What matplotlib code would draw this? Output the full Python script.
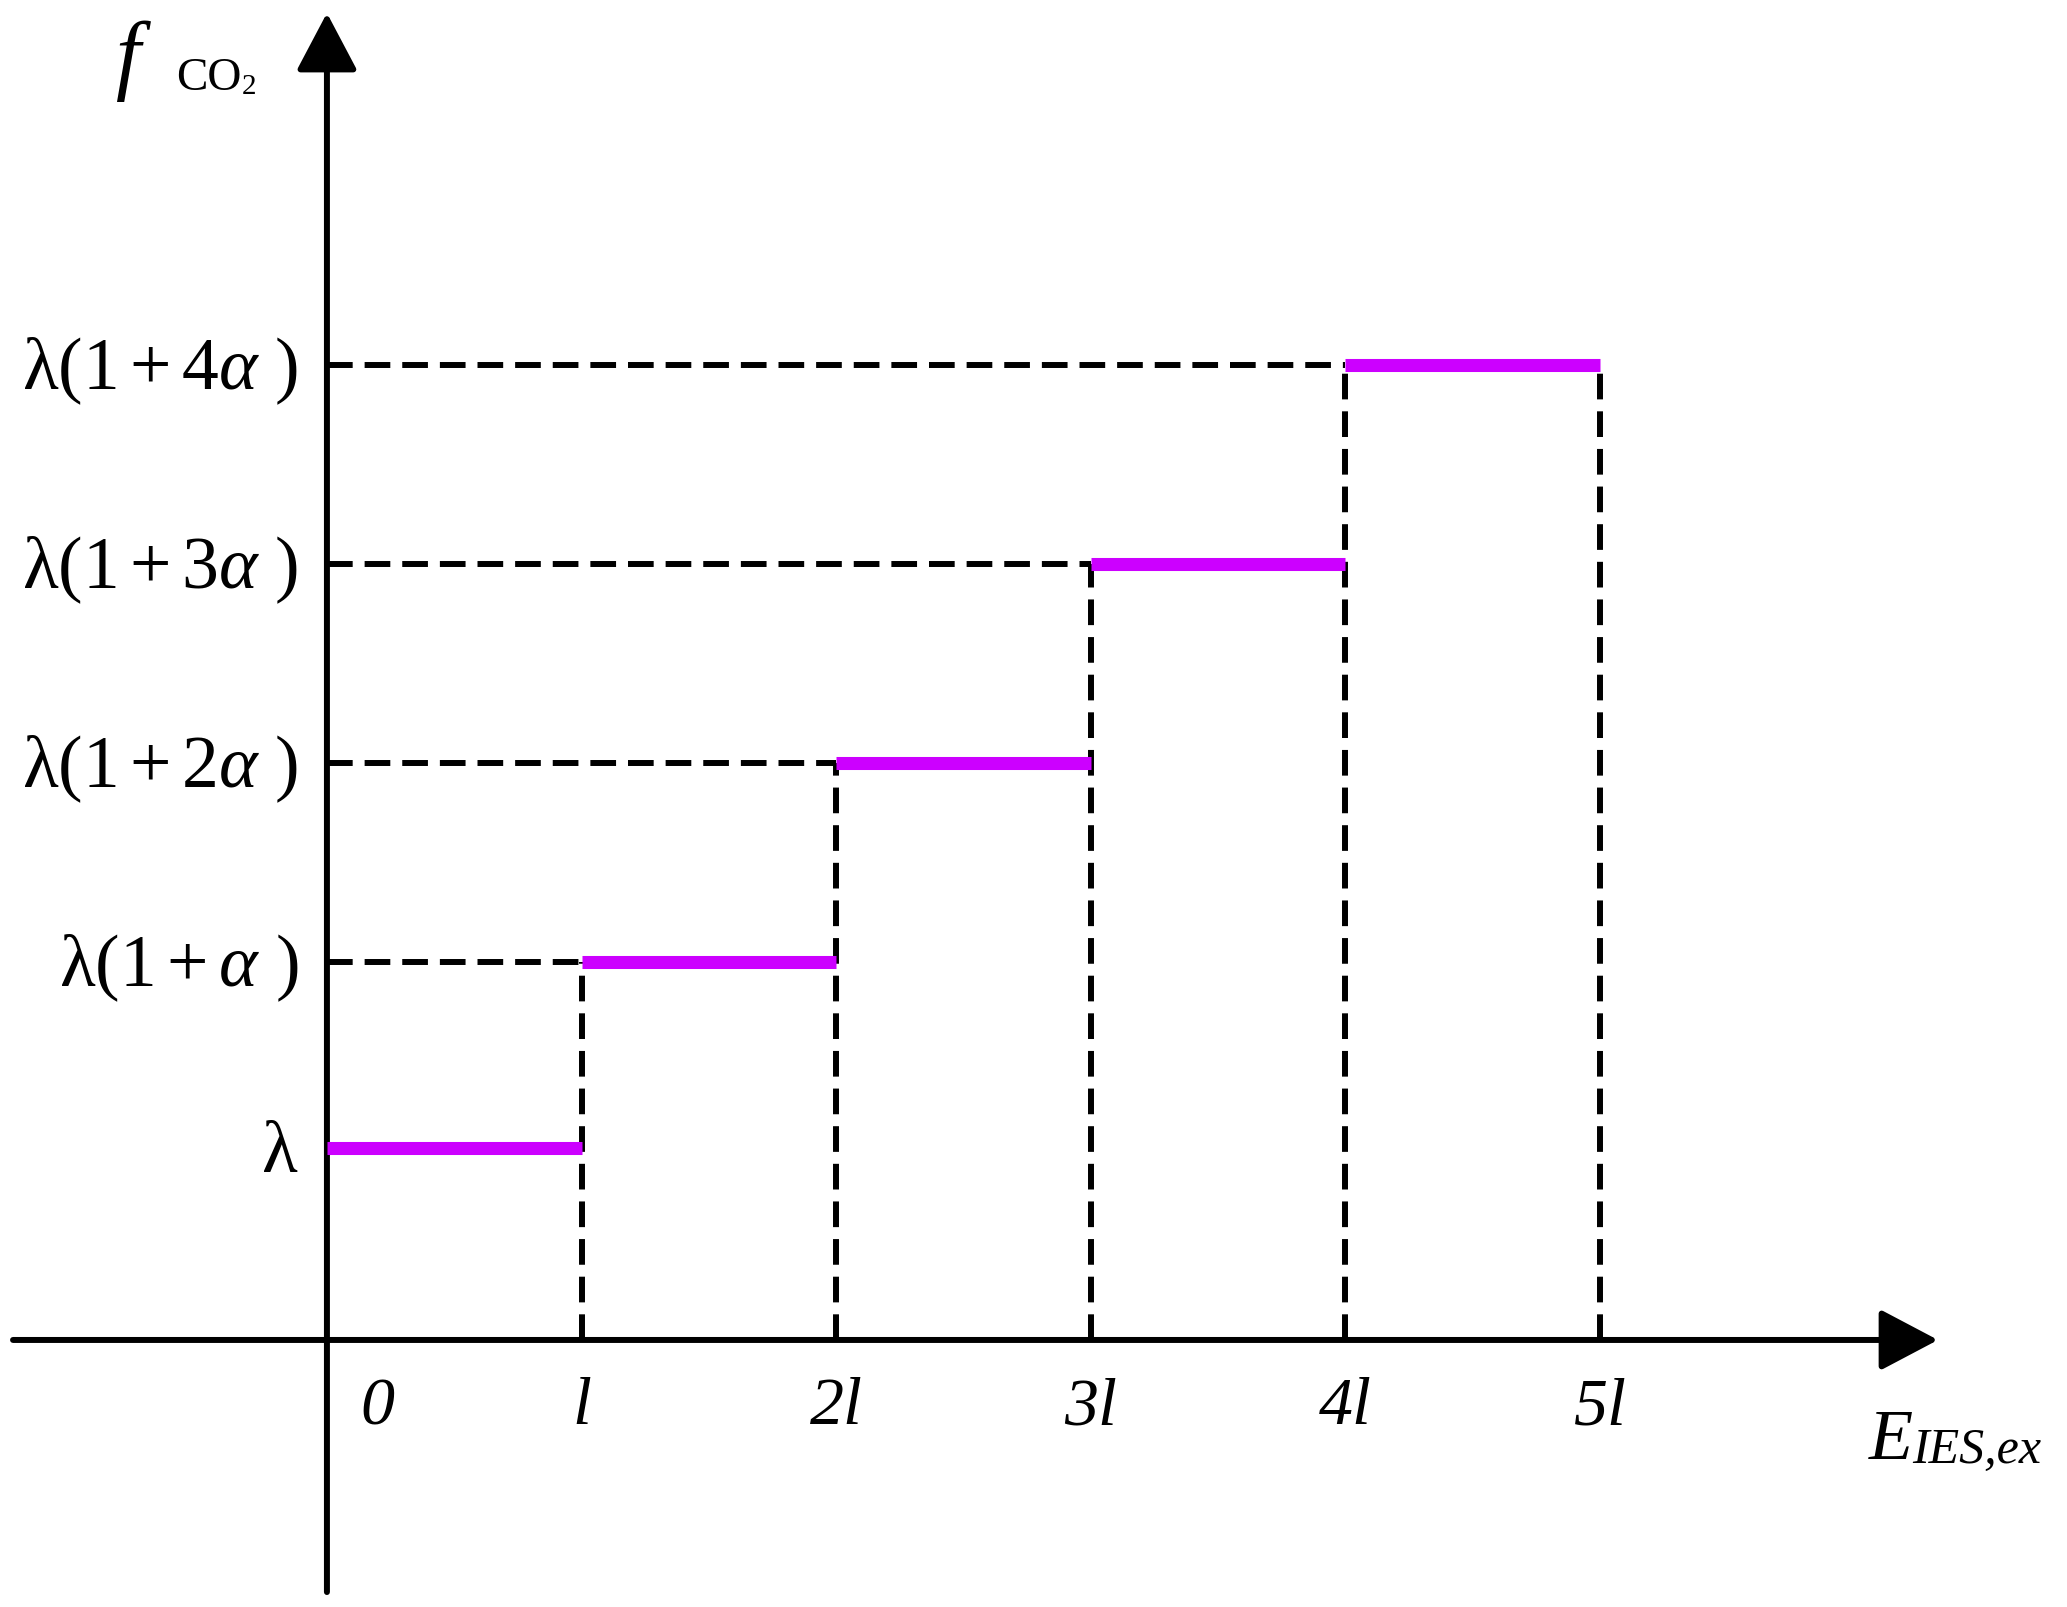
import matplotlib
matplotlib.use('Agg')
import matplotlib.pyplot as plt

plt.rcParams['font.family'] = ['Liberation Serif', 'DejaVu Serif']
plt.rcParams['mathtext.fontset'] = 'custom'
plt.rcParams['mathtext.rm'] = 'Liberation Serif'
plt.rcParams['mathtext.it'] = 'Liberation Serif:italic'

# step boundaries (in units of l) and price level of each step
step_x = [0, 1, 2, 3, 4, 5]
levels = [0.965, 1.90, 2.90, 3.90, 4.90]

x_labels = ['0', 'l', '2l', '3l', '4l', '5l']
y_labels = [r'$\mathrm{\lambda}$',
            r'$\mathrm{\lambda}(1+\alpha\ )$',
            r'$\mathrm{\lambda}(1+2\alpha\ )$',
            r'$\mathrm{\lambda}(1+3\alpha\ )$',
            r'$\mathrm{\lambda}(1+4\alpha\ )$']

magenta = '#cc00ff'
dash = (4.3, 2.0)

fig = plt.figure(figsize=(20.67, 16.07), dpi=100)
ax = fig.add_axes([0, 0, 1, 1])
ax.set_xlim(-1.284, 6.834)
ax.set_ylim(-1.342, 6.734)
ax.axis('off')

# axes with arrows
arrow = dict(arrowstyle='-|>,head_length=36,head_width=19', mutation_scale=1,
             lw=4.3, color='black', shrinkA=0, shrinkB=0)
ax.annotate('', xy=(0.9376, 0), xytext=(0.0063, 0),
            xycoords=('axes fraction', 'data'), textcoords=('axes fraction', 'data'),
            arrowprops=arrow)
ax.annotate('', xy=(0, 0.9919), xytext=(0, 0.0093),
            xycoords=('data', 'axes fraction'), textcoords=('data', 'axes fraction'),
            arrowprops=arrow)

# dashed guides
for k in range(1, 5):
    ax.plot([0, step_x[k]], [levels[k], levels[k]], color='black', lw=4.3,
            dashes=dash, zorder=2)
for k in range(1, 6):
    top = levels[min(k, 4)]
    ax.plot([step_x[k], step_x[k]], [0, top], color='black', lw=4.3,
            dashes=dash, zorder=2)

# the step function
for k in range(5):
    ax.plot([step_x[k], step_x[k + 1]], [levels[k], levels[k]], color=magenta,
            lw=9.4, solid_capstyle='butt', zorder=3)

# tick labels
xt = ax.get_xaxis_transform()
for k, lab in enumerate(x_labels):
    xpos = step_x[k] + (0.2 if k == 0 else 0.0)
    ax.text(xpos, 0.124, lab, transform=xt, ha='center', va='center',
            fontsize=49, fontstyle='italic')

yt = ax.get_yaxis_transform()
for k, lab in enumerate(y_labels):
    ax.text(0.1445, levels[k] - 0.03, lab, transform=yt, ha='right', va='center',
            fontsize=53)

# axis titles
e_txt = ax.text(0.904, 1 - 1459 / 1607, 'E', transform=ax.transAxes, ha='left',
                va='baseline', fontsize=52, fontstyle='italic')
ax.annotate('IES,ex', xy=(1, 0), xycoords=e_txt, ha='left', va='bottom',
            fontsize=36, fontstyle='italic')

f_txt = ax.text(0.0561, 1 - 83 / 1607, 'f', transform=ax.transAxes, ha='left',
                va='baseline', fontsize=64, fontstyle='italic')
co_txt = ax.text(0.0851, 1 - 90 / 1607, 'CO', transform=ax.transAxes, ha='left',
                 va='baseline', fontsize=34)
ax.annotate('2', xy=(1, 0), xycoords=co_txt, ha='left', va='bottom', fontsize=21)

fig.savefig('out.png', dpi=100)
